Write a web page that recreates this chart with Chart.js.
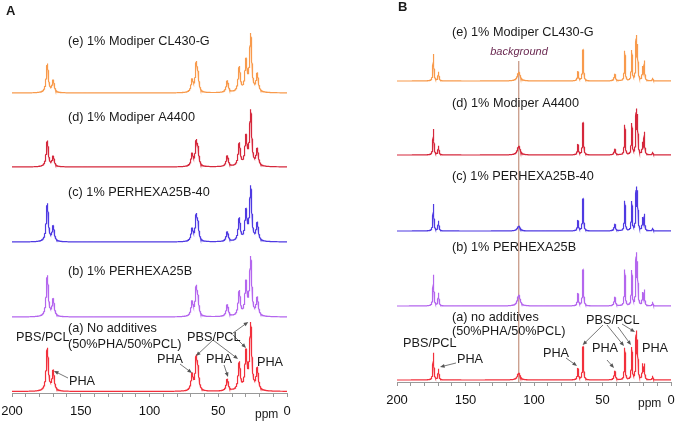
<!DOCTYPE html>
<html>
<head>
<meta charset="utf-8">
<script src="https://cdn.jsdelivr.net/npm/chart.js@4.4.1/dist/chart.umd.min.js"></script>
<style>
  html, body { margin: 0; padding: 0; background: #fff; }
  #wrap { position: relative; width: 676px; height: 423px; overflow: hidden; }
  .cv { position: absolute; top: 0; }
</style>
</head>
<body>
<div id="wrap">
  <div class="cv" style="left:0;width:338px;height:423px"><canvas id="chartA"></canvas></div>
  <div class="cv" style="left:338px;width:338px;height:423px"><canvas id="chartB"></canvas></div>
</div>
<script>
// ---------------- DATA ----------------
const sampleNames = ["(a)", "(b)", "(c)", "(d)", "(e)"];
const xTicks = [200, 150, 100, 50, 0];

// Panel A: peak positions (ppm), half widths (ppm)
const peakPpmA   = [174.3, 170.0, 69.0, 66.0, 64.7, 43.4, 34.7, 29.8, 26.4, 21.6];
const peakWidthA = [0.9, 0.9, 0.9, 0.8, 0.8, 0.9, 0.9, 0.9, 0.9, 0.9];
// Panel A peak heights per sample
const heightsA_a = [43, 20, 16, 31, 17, 12, 28, 37, 66, 22];
const heightsA_b = [41, 17, 14, 27, 14, 12, 25, 32, 58, 18];
const heightsA_c = [38, 15, 12, 24, 14, 10, 23, 29, 54, 18];
const heightsA_d = [26, 10, 12, 23, 14, 11, 23, 28, 55, 17];
const heightsA_e = [29, 12, 12, 27, 14, 12, 25, 30, 57, 18];

// Panel B: peak positions (ppm), half widths (ppm)
const peakPpmB   = [173.4, 169.7, 111.1, 67.9, 64.2, 41.0, 33.7, 28.6, 25.4, 24.4, 20.7, 19.5, 13.4];
const peakWidthB = [0.4, 0.4, 1.2, 0.45, 0.4, 0.55, 0.35, 0.35, 0.35, 0.35, 0.35, 0.35, 0.3];
const heightsB_a = [27, 11, 7, 11, 33, 9, 32, 32, 45, 35, 15, 15, 4];
const heightsB_b = [31, 13, 11, 12, 36, 9, 36, 35, 49, 39, 12, 15, 4];
const heightsB_c = [27, 10, 5, 10, 32, 7, 30, 29, 40, 36, 12, 16, 3];
const heightsB_d = [26, 9, 9, 10, 32, 6, 30, 31, 42, 36, 11, 22, 3];
const heightsB_e = [27, 9, 9, 9, 31, 7, 30, 30, 42, 32, 13, 19, 3];

const backgroundPpm = 111.1;

// ---------------- STYLE / LAYOUT ----------------
const colorsA = ["#f2303c", "#b466ee", "#4f3ae2", "#d5283c", "#f89a4c"];
const colorsB = ["#f2303c", "#b466ee", "#4f3ae2", "#d5283c", "#f89a4c"];
const offsetsA = [1.5, 76, 151, 226, 300];
const offsetsB = [2, 76, 151, 227, 301];

function spectrum(ppms, widths, heights, offset) {
  const pts = [];
  for (let i = 4000; i >= 0; i--) {
    const x = i / 20;
    let y = 0;
    for (let k = 0; k < ppms.length; k++) {
      const d = (x - ppms[k]) / widths[k];
      y += heights[k] / (1 + d * d);
    }
    pts.push({ x: x, y: y + offset });
  }
  return pts;
}

const FONT = "'Liberation Sans', Arial, sans-serif";

function textPlugin(id, texts, arrows) {
  return {
    id: id,
    afterDatasetsDraw(chart) {
      const ctx = chart.ctx;
      const xs = chart.scales.x, ys = chart.scales.y;
      ctx.save();
      ctx.strokeStyle = "#555";
      ctx.fillStyle = "#555";
      ctx.lineWidth = 0.8;
      arrows.forEach(a => {
        const x1 = a.from[0], y1 = a.from[1];
        const x2 = xs.getPixelForValue(a.to[0]), y2 = ys.getPixelForValue(a.to[1]);
        const ang = Math.atan2(y2 - y1, x2 - x1);
        const hl = 5;
        ctx.beginPath();
        ctx.moveTo(x1, y1);
        ctx.lineTo(x2 - Math.cos(ang) * 3, y2 - Math.sin(ang) * 3);
        ctx.stroke();
        ctx.beginPath();
        ctx.moveTo(x2, y2);
        ctx.lineTo(x2 - hl * Math.cos(ang - 0.4), y2 - hl * Math.sin(ang - 0.4));
        ctx.lineTo(x2 - hl * Math.cos(ang + 0.4), y2 - hl * Math.sin(ang + 0.4));
        ctx.closePath();
        ctx.fill();
      });
      texts.forEach(t => {
        ctx.font = t.font || ("12.7px " + FONT);
        ctx.fillStyle = t.color || "#1a1a1a";
        ctx.textAlign = t.align || "left";
        ctx.textBaseline = "middle";
        ctx.fillText(t.text, t.x, t.y);
      });
      ctx.restore();
    }
  };
}

function makeOptions(pad, ymax) {
  return {
    responsive: false,
    animation: false,
    events: [],
    layout: { padding: pad },
    plugins: { legend: { display: false }, tooltip: { enabled: false } },
    elements: { point: { radius: 0 }, line: { borderWidth: 1.2, tension: 0 } },
    scales: {
      x: {
        type: "linear", reverse: true, min: 0, max: 200,
        afterFit: s => { s.height = 30; },
        afterBuildTicks: s => { const t = []; for (let v = 0; v <= 200; v += 10) t.push({ value: v }); s.ticks = t; },
        ticks: {
          autoSkip: false, maxRotation: 0, padding: 7, color: "#111",
          font: { family: FONT, size: 13 },
          callback: v => (xTicks.includes(v) ? String(v) : "")
        },
        grid: { display: true, drawOnChartArea: false, drawTicks: true, tickLength: 4, color: "#999" },
        border: { display: true, color: "#999", width: 1 }
      },
      y: { display: false, min: 0, max: ymax }
    }
  };
}

function buildDatasets(ppms, widths, heightSets, offsets, colors) {
  return heightSets.map((h, i) => ({
    label: sampleNames[i],
    data: spectrum(ppms, widths, h, offsets[i]),
    borderColor: colors[i],
    borderWidth: 1.2,
    pointRadius: 0,
    fill: false
  }));
}

function setupCanvas(id) {
  const c = document.getElementById(id);
  c.width = 338; c.height = 423;
  c.style.width = "338px"; c.style.height = "423px";
  return c;
}

// ---------- Panel A ----------
const textsA = [
  { text: "A", x: 6, y: 11, font: "bold 13px " + FONT },
  { text: "(e) 1% Modiper CL430-G", x: 68, y: 41 },
  { text: "(d) 1% Modiper A4400", x: 68, y: 117 },
  { text: "(c) 1% PERHEXA25B-40", x: 68, y: 192 },
  { text: "(b) 1% PERHEXA25B", x: 68, y: 271 },
  { text: "(a) No additives", x: 68, y: 328 },
  { text: "(50%PHA/50%PCL)", x: 68, y: 344 },
  { text: "PBS/PCL", x: 16, y: 337 },
  { text: "PHA", x: 69, y: 381 },
  { text: "PHA", x: 157, y: 359 },
  { text: "PBS/PCL", x: 187, y: 337 },
  { text: "PHA", x: 206, y: 359 },
  { text: "PHA", x: 257, y: 362 },
  { text: "ppm", x: 255, y: 415, font: "12px " + FONT }
];
const arrowsA = [
  { from: [68, 378], to: [169.5, 22] },
  { from: [180, 364], to: [69.1, 20] },
  { from: [213, 340], to: [66.2, 37] },
  { from: [213, 340], to: [35.6, 34] },
  { from: [233, 335], to: [29.8, 45] },
  { from: [233, 333], to: [28.2, 71] },
  { from: [224, 365], to: [42.9, 16] }
];

const chartA = new Chart(setupCanvas("chartA"), {
  type: "line",
  data: { datasets: buildDatasets(peakPpmA, peakWidthA, [heightsA_a, heightsA_b, heightsA_c, heightsA_d, heightsA_e], offsetsA, colorsA) },
  options: makeOptions({ left: 12, right: 51, top: 0, bottom: 0 }, 393),
  plugins: [textPlugin("txtA", textsA, arrowsA)]
});

// ---------- Panel B ----------
const bx = 338;
const textsB = [
  { text: "B", x: 398 - bx, y: 7, font: "bold 13px " + FONT },
  { text: "(e) 1% Modiper CL430-G", x: 452 - bx, y: 32 },
  { text: "background", x: 519 - bx, y: 52, align: "center", color: "#6b2a52", font: "italic 11px " + FONT },
  { text: "(d) 1% Modiper A4400", x: 452 - bx, y: 103 },
  { text: "(c) 1% PERHEXA25B-40", x: 452 - bx, y: 176 },
  { text: "(b) 1% PERHEXA25B", x: 452 - bx, y: 247 },
  { text: "(a) no additives", x: 452 - bx, y: 317 },
  { text: "(50%PHA/50%PCL)", x: 452 - bx, y: 331 },
  { text: "PBS/PCL", x: 403 - bx, y: 343 },
  { text: "PHA", x: 457 - bx, y: 359 },
  { text: "PHA", x: 543 - bx, y: 353 },
  { text: "PBS/PCL", x: 586 - bx, y: 320 },
  { text: "PHA", x: 592 - bx, y: 348 },
  { text: "PHA", x: 642 - bx, y: 348 },
  { text: "ppm", x: 638 - bx, y: 404, font: "12px " + FONT }
];
const arrowsB = [
  { from: [456 - bx, 363], to: [168.6, 15] },
  { from: [566 - bx, 358], to: [68.6, 16] },
  { from: [603 - bx, 325], to: [64.5, 37] },
  { from: [607 - bx, 325], to: [34.3, 36] },
  { from: [618 - bx, 327], to: [29.2, 37] },
  { from: [622 - bx, 324], to: [26.3, 50] },
  { from: [607 - bx, 360], to: [41.6, 14] }
];

const bgLine = {
  label: "background",
  data: [{ x: backgroundPpm, y: 0 }, { x: backgroundPpm, y: 321 }],
  borderColor: "rgba(160,80,50,0.75)",
  borderWidth: 1,
  pointRadius: 0,
  fill: false
};

const dsB = buildDatasets(peakPpmB, peakWidthB, [heightsB_a, heightsB_b, heightsB_c, heightsB_d, heightsB_e], offsetsB, colorsB);
dsB.push(bgLine);

const chartB = new Chart(setupCanvas("chartB"), {
  type: "line",
  data: { datasets: dsB },
  options: makeOptions({ left: 59, right: 5, top: 0, bottom: 11 }, 382),
  plugins: [textPlugin("txtB", textsB, arrowsB)]
});
</script>
</body>
</html>
